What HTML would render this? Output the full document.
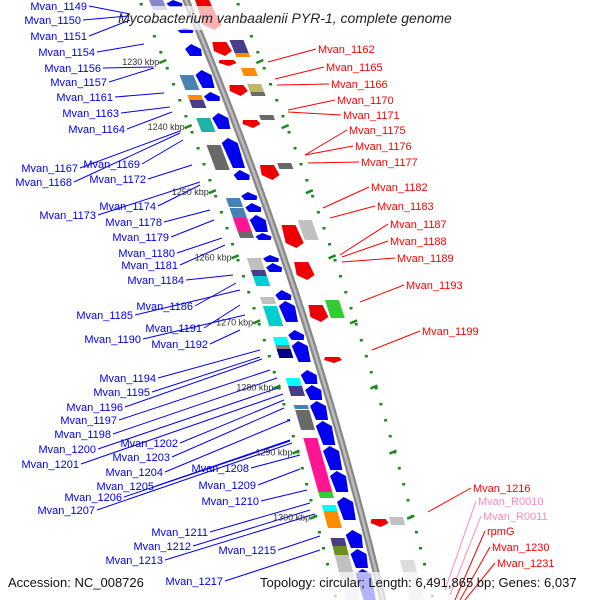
<!DOCTYPE html>
<html><head><meta charset="utf-8"><style>
html,body{margin:0;padding:0;background:#fff;width:600px;height:600px;overflow:hidden}
svg{display:block;font-family:"Liberation Sans","DejaVu Sans",sans-serif}
</style></head><body>
<svg id="map" width="600" height="600" viewBox="0 0 600 600" xmlns="http://www.w3.org/2000/svg">
<g id="ticks"></g>
<g id="genes"></g>
<g id="backbone"></g>
<g id="bgs"></g>
<g id="leaders"></g>
<g id="labels"></g>
</svg>
<script>
// kbp tick labels (kbp value -> y position along map)
const kbpTicks = [1230,1240,1250,1260,1270,1280,1290,1300];
// blue (reverse strand) genes: [yStart, yEnd]
const blueGenes = [[0,7],[28,33],[44,56],[70,88],[92,101],[113,129],[138,168],[170,180],[192,200],[203,212],[215,232],[233,240],[255,262],[263,272],[290,300],[301,322],[330,340],[341,362],[370,384],[385,400],[401,420],[421,445],[446,470],[471,492],[497,520],[530,548],[549,568],[569,600]];
// red (forward strand) genes: [yStart, yEnd]
const redGenes = [[0,30],[42,56],[60,66],[85,96],[120,128],[165,180],[225,248],[262,280],[305,322],[357,363],[519,527]];
// blue-side feature boxes: [yStart, yEnd, color]
const blueBoxes = [[0,10,"#8888cc"],[75,90,"#4682b4"],[95,100,"#ff8c00"],[100,108,"#483d8b"],[118,132,"#20b2aa"],[145,170,"#696969"],[198,207,"#4682b4"],[208,218,"#4682b4"],[218,232,"#ff1493"],[232,238,"#696969"],[258,270,"#c0c0c0"],[270,276,"#483d8b"],[276,286,"#00ced1"],[297,304,"#c0c0c0"],[306,326,"#00ced1"],[337,345,"#00ffff"],[345,349,"#808080"],[349,358,"#000080"],[378,386,"#00ffff"],[386,396,"#483d8b"],[405,409,"#4682b4"],[410,430,"#696969"],[438,492,"#ff1493"],[492,498,"#32cd32"],[505,511,"#00ffff"],[511,528,"#ff8c00"],[538,546,"#483d8b"],[546,555,"#6b8e23"],[555,580,"#c0c0c0"],[580,600,"#ddddee"]];
// red-side feature boxes: [yStart, yEnd, color]
const redBoxes = [[40,53,"#483d8b"],[53,57,"#ff8c00"],[68,76,"#ff8c00"],[84,92,"#bdb76b"],[92,96,"#696969"],[115,120,"#696969"],[163,169,"#696969"],[220,240,"#c0c0c0"],[300,318,"#32cd32"],[517,525,"#c0c0c0"],[560,600,"#dddddd"]];
// blue labels: [name, textRightX, textY, lineEndX, lineEndY]
const blueLabels = [["Mvan_1149",87,10,130,14],["Mvan_1150",81,24,128,16],["Mvan_1151",87,40,130,20],["Mvan_1154",95,56,144,44],["Mvan_1156",101,72,153,67],["Mvan_1157",107,86,154,68],["Mvan_1161",113,101,164,93],["Mvan_1163",119,117,170,107],["Mvan_1164",125,133,172,112],["Mvan_1167",78,172,180,131],["Mvan_1169",140,168,183,140],["Mvan_1168",72,186,180,133],["Mvan_1172",146,183,192,165],["Mvan_1174",156,210,200,185],["Mvan_1173",96,219,200,182],["Mvan_1178",162,226,210,210],["Mvan_1179",169,241,214,220],["Mvan_1180",175,257,222,238],["Mvan_1181",178,269,225,245],["Mvan_1184",184,284,233,275],["Mvan_1186",193,310,236,283],["Mvan_1185",133,319,240,290],["Mvan_1191",202,332,240,305],["Mvan_1190",141,343,245,315],["Mvan_1192",208,348,240,330],["Mvan_1194",156,382,260,350],["Mvan_1195",150,396,260,357],["Mvan_1196",123,411,262,359],["Mvan_1197",117,424,270,370],["Mvan_1198",111,438,277,378],["Mvan_1202",178,447,284,400],["Mvan_1200",96,453,278,388],["Mvan_1203",170,461,284,408],["Mvan_1201",79,468,283,394],["Mvan_1204",163,476,290,420],["Mvan_1208",249,472,300,455],["Mvan_1205",154,490,290,440],["Mvan_1209",256,489,300,469],["Mvan_1206",122,501,290,441],["Mvan_1210",259,505,307,490],["Mvan_1207",95,514,292,443],["Mvan_1211",208,536,310,503],["Mvan_1212",191,550,310,510],["Mvan_1215",276,554,320,536],["Mvan_1213",163,564,315,514],["Mvan_1217",223,585,320,550]];
// red labels: [name, textLeftX, textY, lineStartX, lineStartY, color]
const redLabels = [["Mvan_1162",318,53,268,62,"red"],["Mvan_1165",326,71,275,79,"red"],["Mvan_1166",331,88,277,85,"red"],["Mvan_1170",337,104,288,110,"red"],["Mvan_1171",343,119,288,112,"red"],["Mvan_1175",349,134,305,155,"red"],["Mvan_1176",355,150,305,155,"red"],["Mvan_1177",361,166,308,163,"red"],["Mvan_1182",371,191,323,208,"red"],["Mvan_1183",377,210,330,218,"red"],["Mvan_1187",390,228,340,255,"red"],["Mvan_1188",390,245,342,257,"red"],["Mvan_1189",397,262,342,262,"red"],["Mvan_1193",406,289,360,302,"red"],["Mvan_1199",422,335,372,350,"red"],["Mvan_1216",473,492,428,512,"red"],["Mvan_R0010",478,505,445,590,"#ff88bb"],["Mvan_R0011",483,520,450,595,"#ff88bb"],["rpmG",487,535,455,600,"red"],["Mvan_1230",492,551,460,600,"red"],["Mvan_1231",497,567,465,600,"red"]];

const NS = "http://www.w3.org/2000/svg";
function bx(y){ return 186 + 0.418*y - 0.00015*y*y; }
function kbpY(k){ return 62 + (k-1230)*6.51; }
function mk(parent, tag, attrs){ const e=document.createElementNS(NS,tag); for(const k in attrs) e.setAttribute(k,attrs[k]); parent.appendChild(e); return e; }
function pts(a){ return a.map(p=>p[0].toFixed(1)+","+p[1].toFixed(1)).join(" "); }

const gT=document.getElementById('ticks'), gG=document.getElementById('genes'), gB=document.getElementById('backbone'), gBg=document.getElementById('bgs'), gL=document.getElementById('leaders'), gX=document.getElementById('labels');

// dotted tick rings
for(let y=4;y<600;y+=16){
  for(const off of [-47,50]){
    const d=mk(gT,'rect',{x:bx(y)+off-1,y:y-1,width:3,height:2.5,fill:'#1a8a1a'});
    
    
  }
}
kbpTicks.forEach(k=>{
  const y=kbpY(k);
  for(const off of [-49,48]){
    const l=mk(gT,'line',{x1:bx(y)+off-3,y1:y+1,x2:bx(y)+off+4,y2:y-2,stroke:'#1a8a1a','stroke-width':2.5});
    
    
  }
  const t=mk(gX,'text',{x:bx(y)-52,y:y+3,'font-size':9,fill:'#333','text-anchor':'end'}); t.textContent=k+" kbp";
  
  
});

// boxes
function box(y0,y1,o0,o1,c,name){
  const p=mk(gG,'polygon',{points:pts([[bx(y0)+o0,y0],[bx(y0)+o1,y0],[bx(y1)+o1,y1],[bx(y1)+o0,y1]]),fill:c});
  
  
}
blueBoxes.forEach(b=>box(b[0],b[1],-37,-23,b[2],'feature-box'));
redBoxes.forEach(b=>box(b[0],b[1],27,41,b[2],'feature-box'));
// arrows
blueGenes.forEach(g=>{
  const [y0,y1]=g, o0=-19,o1=-7, h=Math.min(5,(y1-y0)/2), m=(o0+o1)/2;
  const p=mk(gG,'polygon',{points:pts([[bx(y0)+m,y0],[bx(y0+h)+o1+2,y0+h],[bx(y1)+o1,y1],[bx(y1)+o0,y1],[bx(y0+h)+o0-2,y0+h]]),fill:'#0000ee'});
  
  
});
redGenes.forEach(g=>{
  const [y0,y1]=g, o0=9,o1=23, h=Math.min(5,(y1-y0)/2), m=(o0+o1)/2;
  const p=mk(gG,'polygon',{points:pts([[bx(y0)+o0,y0],[bx(y0)+o1,y0],[bx(y1-h)+o1+2,y1-h],[bx(y1)+m,y1],[bx(y1-h)+o0-2,y1-h]]),fill:'#ee0000'});
  
  
});

// backbone
let bp=[]; for(let y=-5;y<=605;y+=5) bp.push([bx(y),y]);
const bl=mk(gB,'polyline',{points:pts(bp),fill:'none',stroke:'#888','stroke-width':7});


const bl2=mk(gB,'polyline',{points:pts(bp),fill:'none',stroke:'#bbb','stroke-width':2.5});



// translucent backgrounds (behind labels)
const tb=mk(gBg,'rect',{x:112,y:6,width:376,height:24,fill:'#fff','fill-opacity':0.7});


const fb=mk(gBg,'rect',{x:0,y:572,width:600,height:28,fill:'#fff','fill-opacity':0.7});



// labels
blueLabels.forEach(L=>{
  const ln=mk(gL,'line',{x1:L[1]+2,y1:L[2]-4,x2:L[3],y2:L[4],stroke:'#0000ee','stroke-width':1});
  
  
  const t=mk(gX,'text',{x:L[1],y:L[2],'font-size':11,fill:'#0000ee','text-anchor':'end'}); t.textContent=L[0];
  
  
});
redLabels.forEach(L=>{
  const ln=mk(gL,'line',{x1:L[1]-2,y1:L[2]-4,x2:L[3],y2:L[4],stroke:L[5],'stroke-width':1});
  
  
  const t=mk(gX,'text',{x:L[1],y:L[2],'font-size':11,fill:L[5]}); t.textContent=L[0];
  
  
});

const tt=mk(gX,'text',{x:118,y:23,'font-size':14,'font-style':'italic',fill:'#222'}); tt.textContent="Mycobacterium vanbaalenii PYR-1, complete genome";


const f1=mk(gX,'text',{x:8,y:587,'font-size':13,fill:'#111'}); f1.textContent="Accession: NC_008726";


const f2=mk(gX,'text',{x:260,y:587,'font-size':13,fill:'#111'}); f2.textContent="Topology: circular; Length: 6,491,865 bp; Genes: 6,037";


</script>
</body></html>
